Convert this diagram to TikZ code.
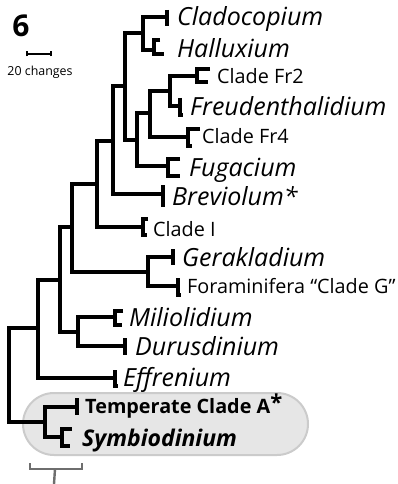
\documentclass[tikz,border=0pt]{standalone}
\usepackage{fontspec}
\setmainfont{Open Sans}
\usepackage{tikz}
\usepackage{xcolor}

\definecolor{boxfill}{HTML}{E6E6E6}
\definecolor{boxline}{HTML}{CBCBCB}
\definecolor{brackgray}{HTML}{6E6E6E}

\tikzset{
  branch/.style={line width=3.4pt},
  tipbar/.style={line width=3.4pt},
  genus/.style={anchor=base west, inner sep=0pt, font=\fontsize{25}{25}\selectfont\itshape},
  clade/.style={anchor=base west, inner sep=0pt, font=\fontsize{19.8}{19.8}\selectfont},
}

\begin{document}
\begin{tikzpicture}[x=1pt,y=-1pt]
\useasboundingbox (0,0) rectangle (398,484);

% Highlighted clade A box
\draw[boxline, fill=boxfill, line width=2pt, rounded corners=31pt] (23,393) rectangle (308,455);

% Panel number and scale
\node[font=\fontsize{30}{30}\selectfont\bfseries] (panel) at (21,26) {6};
\coordinate (sbl) at (27,54);
\coordinate (sbr) at (51,54);
\draw[line width=2pt] (sbl) -- (sbr);
\draw[line width=1.6pt] ([yshift=-2.5pt]sbl) -- ([yshift=2.5pt]sbl);
\draw[line width=1.6pt] ([yshift=-2.5pt]sbr) -- ([yshift=2.5pt]sbr);
\node[font=\fontsize{12.4}{12.4}\selectfont] (sblabel) at (40,72) {20 changes};

% Internal nodes (x, stem height)
\coordinate (root) at (9,375);
\coordinate (n1) at (38,328);
\coordinate (n2) at (45,422);
\coordinate (nF) at (60,280);
\coordinate (nG) at (78,332);
\coordinate (nD) at (72,227);
\coordinate (nE) at (148,272);
\coordinate (nC) at (97,184);
\coordinate (nBr) at (113,141);
\coordinate (nA) at (125,86);
\coordinate (nCH) at (143,33);
\coordinate (nB) at (137,140);
\coordinate (nFR) at (150,113);
\coordinate (nFR2) at (170,91);

% Tips
\coordinate (tClado) at (167,17);
\coordinate (tHall) at (154,50);
\coordinate (tFr2) at (197,76);
\coordinate (tFreud) at (180,106);
\coordinate (tFr4) at (188,137);
\coordinate (tFug) at (168,166);
\coordinate (tBrev) at (163,194);
\coordinate (tCladeI) at (143,227);
\coordinate (tGer) at (173,257);
\coordinate (tForam) at (178,286);
\coordinate (tMil) at (115,317);
\coordinate (tDur) at (125,346);
\coordinate (tEff) at (115,378);
\coordinate (tTemp) at (77,407);
\coordinate (tSym) at (62,437);

% Branches
\draw[branch] (root) |- (n1);
\draw[branch] (root) |- (n2);
\draw[branch] (n1) |- (nF);
\draw[branch] (n1) |- (tEff);
\draw[branch] (nF) |- (nD);
\draw[branch] (nF) |- (nG);
\draw[branch] (nD) |- (nC);
\draw[branch] (nD) |- (nE);
\draw[branch] (nC) |- (nBr);
\draw[branch] (nC) |- (tCladeI);
\draw[branch] (nBr) |- (nA);
\draw[branch] (nBr) |- (tBrev);
\draw[branch] (nA) |- (nCH);
\draw[branch] (nA) |- (nB);
\draw[branch] (nCH) |- (tClado);
\draw[branch] (nCH) |- (tHall);
\draw[branch] (nB) |- (nFR);
\draw[branch] (nB) |- (tFug);
\draw[branch] (nFR) |- (nFR2);
\draw[branch] (nFR) |- (tFr4);
\draw[branch] (nFR2) |- (tFr2);
\draw[branch] (nFR2) |- (tFreud);
\draw[branch] (nE) |- (tGer);
\draw[branch] (nE) |- (tForam);
\draw[branch] (nG) |- (tMil);
\draw[branch] (nG) |- (tDur);
\draw[branch] (n2) |- (tTemp);
\draw[branch] (n2) |- (tSym);

% Collapsed clade bars
\draw[tipbar] (tClado) ++(0,-7) -- ++(0,16);
\draw[tipbar] (tHall) ++(6,-10) -- ++(-6,0) -- ++(0,14) -- ++(10,0);
\draw[tipbar] (tFr2) ++(13,-7) -- ++(-13,0) -- ++(0,13) -- ++(11,0);
\draw[tipbar] (tFreud) ++(0,-8) -- ++(0,17) -- ++(3,0);
\draw[tipbar] (tFr4) ++(12,-8) -- ++(-12,0) -- ++(0,17) -- ++(4,0);
\draw[tipbar] (tFug) ++(12,-7) -- ++(-12,0) -- ++(0,17) -- ++(12,0);
\draw[tipbar] (tBrev) ++(2,-7) -- ++(-2,0) -- ++(0,18) -- ++(2,0);
\draw[tipbar] (tCladeI) ++(5,-8) -- ++(-5,0) -- ++(0,16) -- ++(4,0);
\draw[tipbar] (tGer) ++(0,-8) -- ++(0,16);
\draw[tipbar] (tForam) ++(0,-8) -- ++(0,17) -- ++(3,0);
\draw[tipbar] (tMil) ++(8,-6) -- ++(-8,0) -- ++(0,14) -- ++(7,0);
\draw[tipbar] (tDur) ++(0,-8) -- ++(0,17);
\draw[tipbar] (tEff) ++(0,-8) -- ++(0,16) -- ++(3,0);
\draw[tipbar] (tTemp) ++(0,-9) -- ++(0,17);
\draw[tipbar] (tSym) ++(10,-8) -- ++(-10,0) -- ++(0,17) -- ++(8,0);

% Tip labels
\node[genus] (lClado) at (177,26) {Cladocopium};
\node[genus] (lHall) at (177,58) {Halluxium};
\node[clade] (lFr2) at (217,84) {Clade Fr2};
\node[genus] (lFreud) at (190,116) {Freudenthalidium};
\node[clade] (lFr4) at (202,143) {Clade Fr4};
\node[genus] (lFug) at (189,176) {Fugacium};
\node[genus] (lBrev) at (172,205) {Breviolum*};
\node[clade] (lCladeI) at (153,236) {Clade I};
\node[genus] (lGer) at (182,266) {Gerakladium};
\node[clade] (lForam) at (187,293) {Foraminifera “Clade G”};
\node[genus] (lMil) at (129,326) {Miliolidium};
\node[genus] (lDur) at (135,355) {Durusdinium};
\node[genus] (lEff) at (123,386) {Effrenium};
\node[clade, font=\fontsize{19.8}{19.8}\selectfont\bfseries] (lTemp) at (85,413) {Temperate Clade A\raisebox{3pt}{\fontsize{22}{22}\selectfont*}};
\node[genus, font=\fontsize{23}{23}\selectfont\bfseries\itshape] (lSym) at (82,446) {Symbiodinium};

% Bracket below
\coordinate (brl) at (30,469);
\coordinate (brr) at (82,469);
\coordinate (brm) at (55,469);
\coordinate (brend) at (54,484);
\draw[brackgray, line width=2.4pt] ([yshift=6pt]brl) -- (brl) -- (brr) -- ([yshift=6pt]brr);
\draw[brackgray, line width=2.4pt] (brm) -- (brend);
\end{tikzpicture}
\end{document}
